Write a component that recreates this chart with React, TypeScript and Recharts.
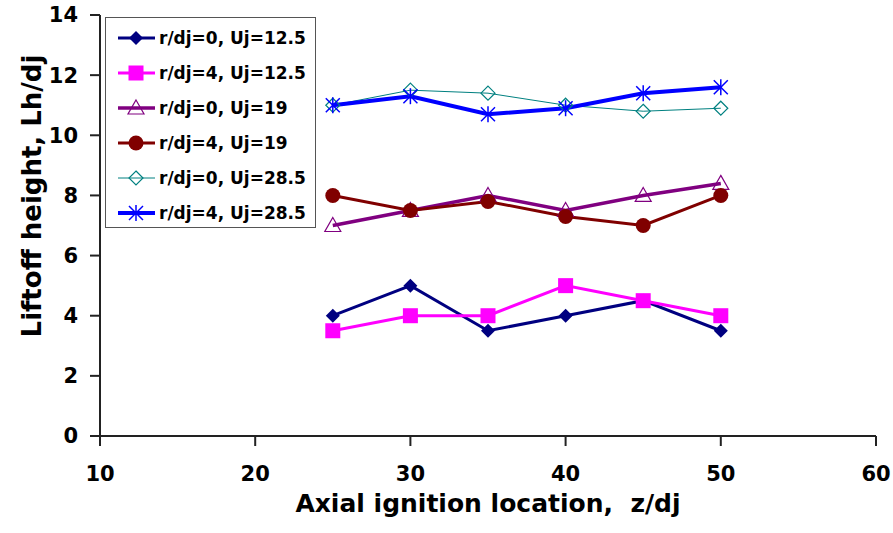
import React from 'react';
import { LineChart, Line, XAxis, YAxis, Legend, Label } from 'recharts';

// axial ignition location z/dj
const zValues = [25, 30, 35, 40, 45, 50];

// liftoff height Lh/dj
const r0U125 = [4, 5, 3.5, 4, 4.5, 3.5];
const r4U125 = [3.5, 4, 4, 5, 4.5, 4];
const r0U19 = [7, 7.5, 8, 7.5, 8, 8.4];
const r4U19 = [8, 7.5, 7.8, 7.3, 7, 8];
const r0U285 = [11, 11.5, 11.4, 11, 10.8, 10.9];
const r4U285 = [11, 11.3, 10.7, 10.9, 11.4, 11.6];

const xTicks = [10, 20, 30, 40, 50, 60];
const yTicks = [0, 2, 4, 6, 8, 10, 12, 14];

const FONT = '"DejaVu Sans", Arial, Helvetica, sans-serif';

type MarkerKind = 'diamond' | 'square' | 'triangle' | 'circle' | 'openDiamond' | 'star';

const series: { key: string; name: string; values: number[]; color: string; width: number; marker: MarkerKind }[] = [
  { key: 'a', name: 'r/dj=0, Uj=12.5', values: r0U125, color: '#000080', width: 3, marker: 'diamond' },
  { key: 'b', name: 'r/dj=4, Uj=12.5', values: r4U125, color: '#FF00FF', width: 3, marker: 'square' },
  { key: 'c', name: 'r/dj=0, Uj=19', values: r0U19, color: '#800080', width: 3.5, marker: 'triangle' },
  { key: 'd', name: 'r/dj=4, Uj=19', values: r4U19, color: '#800000', width: 3, marker: 'circle' },
  { key: 'e', name: 'r/dj=0, Uj=28.5', values: r0U285, color: '#008080', width: 1, marker: 'openDiamond' },
  { key: 'f', name: 'r/dj=4, Uj=28.5', values: r4U285, color: '#0000FF', width: 4, marker: 'star' },
];

const data = zValues.map((z, i) => {
  const row: Record<string, number> = { z };
  series.forEach((s) => {
    row[s.key] = s.values[i];
  });
  return row;
});

const Marker = ({ kind, cx, cy, color }: { kind: MarkerKind; cx: number; cy: number; color: string }) => {
  switch (kind) {
    case 'diamond':
      return <polygon points={`${cx},${cy - 7} ${cx + 7},${cy} ${cx},${cy + 7} ${cx - 7},${cy}`} fill={color} />;
    case 'square':
      return <rect x={cx - 7.5} y={cy - 7.5} width={15} height={15} fill={color} />;
    case 'triangle':
      return (
        <polygon
          points={`${cx},${cy - 8} ${cx + 8},${cy + 6} ${cx - 8},${cy + 6}`}
          fill="none"
          stroke={color}
          strokeWidth={1.2}
        />
      );
    case 'circle':
      return <circle cx={cx} cy={cy} r={7.5} fill={color} />;
    case 'openDiamond':
      return (
        <polygon
          points={`${cx},${cy - 7} ${cx + 7},${cy} ${cx},${cy + 7} ${cx - 7},${cy}`}
          fill="none"
          stroke={color}
          strokeWidth={1.2}
        />
      );
    case 'star':
      return (
        <g stroke={color} strokeWidth={1.5}>
          <line x1={cx} y1={cy - 8} x2={cx} y2={cy + 8} />
          <line x1={cx - 7} y1={cy - 7} x2={cx + 7} y2={cy + 7} />
          <line x1={cx - 7} y1={cy + 7} x2={cx + 7} y2={cy - 7} />
        </g>
      );
  }
  return null;
};

const renderLegend = () => (
  <div
    style={{
      border: '1px solid #555',
      background: '#fff',
      width: 211,
      height: 211,
      boxSizing: 'border-box',
      paddingTop: 2,
      fontFamily: FONT,
    }}
  >
    {series.map((s) => (
      <div key={s.key} style={{ display: 'flex', alignItems: 'center', height: 35 }}>
        <svg width={50} height={20} style={{ marginLeft: 7 }}>
          <line x1={5} y1={10} x2={42} y2={10} stroke={s.color} strokeWidth={s.width} />
          <Marker kind={s.marker} cx={23} cy={10} color={s.color} />
        </svg>
        <span style={{ fontSize: 17, fontWeight: 'bold', color: '#000', marginLeft: -4, whiteSpace: 'nowrap' }}>
          {s.name}
        </span>
      </div>
    ))}
  </div>
);

const tickStyle = { fill: '#000', fontSize: 21, fontWeight: 'bold', fontFamily: FONT };

const YTitle = (props: any) => {
  const vb = props.viewBox;
  const cx = 32;
  const cy = vb.y + vb.height * 0.43;
  return (
    <text
      x={cx}
      y={cy}
      transform={`rotate(-90 ${cx} ${cy})`}
      textAnchor="middle"
      dominantBaseline="central"
      fontFamily={FONT}
      fontWeight="bold"
      fontSize={26}
      fill="#000"
    >
      Liftoff height, Lh/dj
    </text>
  );
};

const App = () => (
  <div style={{ position: 'absolute', left: 0, top: 0, background: '#fff' }}>
    <LineChart width={893} height={533} data={data} margin={{ top: 15, right: 17, left: 0, bottom: 0 }}>
      <XAxis
        dataKey="z"
        type="number"
        domain={[10, 60]}
        ticks={xTicks}
        allowDataOverflow
        height={97}
        stroke="#222"
        strokeWidth={2}
        tickSize={10}
        tickMargin={20}
        tick={tickStyle}
      >
        <Label
          value={'Axial ignition location,\u00A0 z/dj'}
          position="insideBottom"
          offset={21}
          style={{ fill: '#000', fontSize: 25, fontWeight: 'bold', fontFamily: FONT }}
        />
      </XAxis>
      <XAxis xAxisId="top" orientation="top" dataKey="z" type="number" domain={[10, 60]} height={0} tick={false} tickLine={false} stroke="#444" />
      <YAxis
        domain={[0, 14]}
        ticks={yTicks}
        width={100}
        stroke="#222"
        strokeWidth={2}
        tickSize={10}
        tickMargin={12}
        tick={tickStyle}
      >
        <Label content={<YTitle />} />
      </YAxis>
      <YAxis yAxisId="right" orientation="right" domain={[0, 14]} width={0} tick={false} tickLine={false} stroke="#444" />
      <Legend
        layout="vertical"
        align="center"
        verticalAlign="middle"
        content={renderLegend}
        wrapperStyle={{ left: 105, top: 17, width: 211, height: 211 }}
      />
      {series.map((s) => (
        <Line
          key={s.key}
          dataKey={s.key}
          name={s.name}
          type="linear"
          stroke={s.color}
          strokeWidth={s.width}
          isAnimationActive={false}
          dot={(p: any) => <Marker key={`${s.key}-${p.index}`} kind={s.marker} cx={p.cx} cy={p.cy} color={s.color} />}
          activeDot={false}
        />
      ))}
    </LineChart>
  </div>
);

export default App;
